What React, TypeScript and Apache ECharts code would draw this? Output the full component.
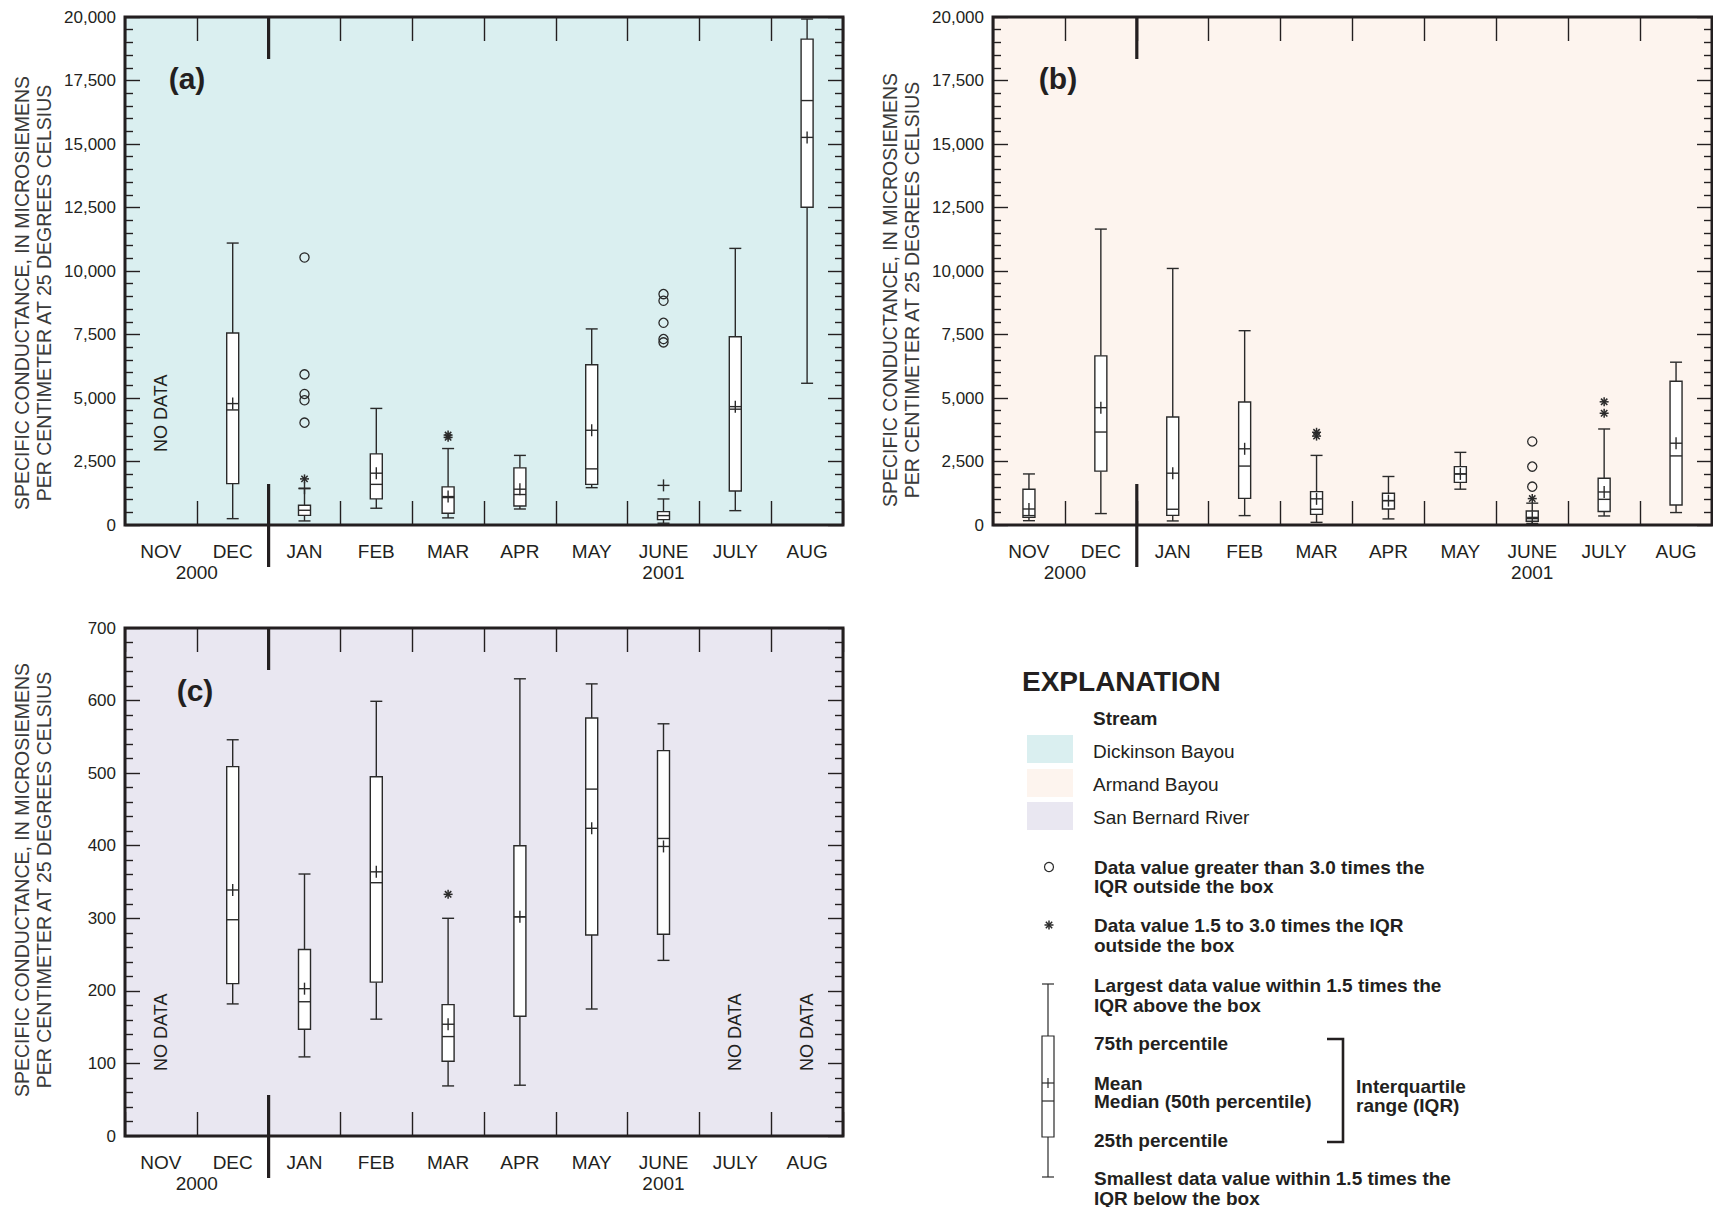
import React, { useEffect, useRef } from 'react';
import * as echarts from 'echarts';

const months = ['NOV', 'DEC', 'JAN', 'FEB', 'MAR', 'APR', 'MAY', 'JUNE', 'JULY', 'AUG'];
const seasonBreak = ['DEC', 'JAN'];
const yearLabels = [
  { text: '2000', from: 'NOV', to: 'DEC' },
  { text: '2001', from: 'JUNE', to: 'JUNE' },
];

// Box statistics: [month, lower whisker, 25th pct, median, 75th pct, upper whisker]
const dickinsonBoxes = [
  ['DEC', 250, 1630, 4530, 7560, 11100],
  ['JAN', 160, 380, 580, 780, 1430],
  ['FEB', 660, 1030, 1600, 2800, 4590],
  ['MAR', 280, 460, 1080, 1500, 3010],
  ['APR', 630, 750, 1200, 2250, 2740],
  ['MAY', 1470, 1600, 2210, 6310, 7720],
  ['JUNE', 70, 210, 370, 525, 1025],
  ['JULY', 565, 1340, 4560, 7410, 10890],
  ['AUG', 5580, 12510, 16710, 19130, 19920],
];
const dickinsonMeans = [
  ['DEC', 4780], ['JAN', 1450], ['FEB', 2040], ['MAR', 1120], ['APR', 1410],
  ['MAY', 3730], ['JUNE', 1560], ['JULY', 4660], ['AUG', 15260],
];
const dickinsonFarOut = [
  ['JAN', 10530], ['JAN', 5930], ['JAN', 5160], ['JAN', 4910], ['JAN', 4030],
  ['JUNE', 9090], ['JUNE', 8830], ['JUNE', 7960], ['JUNE', 7320], ['JUNE', 7190],
];
const dickinsonNearOut = [['JAN', 1815], ['MAR', 3450], ['MAR', 3540]];
const dickinsonNoData = ['NOV'];

const armandBoxes = [
  ['NOV', 170, 300, 370, 1410, 2010],
  ['DEC', 450, 2120, 3660, 6660, 11650],
  ['JAN', 160, 380, 620, 4250, 10100],
  ['FEB', 370, 1050, 2320, 4840, 7650],
  ['MAR', 105, 420, 620, 1315, 2740],
  ['APR', 240, 630, 960, 1250, 1910],
  ['MAY', 1410, 1680, 2010, 2300, 2860],
  ['JUNE', 60, 150, 250, 550, 860],
  ['JULY', 355, 530, 1010, 1840, 3780],
  ['AUG', 490, 790, 2720, 5660, 6410],
];
const armandMeans = [
  ['NOV', 630], ['DEC', 4620], ['JAN', 2040], ['FEB', 3000], ['MAR', 1030],
  ['APR', 960], ['MAY', 2010], ['JUNE', 300], ['JULY', 1300], ['AUG', 3220],
];
const armandFarOut = [['JUNE', 3290], ['JUNE', 2300], ['JUNE', 1510]];
const armandNearOut = [['MAR', 3500], ['MAR', 3650], ['JUNE', 1040], ['JULY', 4850], ['JULY', 4400]];
const armandNoData: string[] = [];

const sanBernardBoxes = [
  ['DEC', 182, 210, 298, 509, 546],
  ['JAN', 109, 147, 185, 257, 361],
  ['FEB', 161, 212, 349, 495, 599],
  ['MAR', 69, 103, 137, 181, 300],
  ['APR', 70, 165, 302, 400, 630],
  ['MAY', 175, 277, 478, 576, 623],
  ['JUNE', 242, 278, 410, 531, 568],
];
const sanBernardMeans = [
  ['DEC', 339], ['JAN', 203], ['FEB', 364], ['MAR', 154], ['APR', 302], ['MAY', 424], ['JUNE', 399],
];
const sanBernardFarOut: any[] = [];
const sanBernardNearOut = [['MAR', 333]];
const sanBernardNoData = ['NOV', 'JULY', 'AUG'];

const conductanceAxis = { min: 0, max: 20000, interval: 2500 };
const sanBernardAxis = { min: 0, max: 700, interval: 100 };

const FONT = "'Liberation Sans', Arial, Helvetica, sans-serif";
const INK = '#231f20';
const MARK = '#2a2a2a';
const Y_NAME = 'SPECIFIC CONDUCTANCE, IN MICROSIEMENS\nPER CENTIMETER AT 25 DEGREES CELSIUS';

const panels = [
  {
    label: '(a)', labelPos: [187, 78], bg: '#daeff0', namePos: [33, 293],
    grid: { left: 125, top: 17, width: 718, height: 508 },
    axis: conductanceAxis, noDataAt: 4400,
    boxes: dickinsonBoxes, means: dickinsonMeans, far: dickinsonFarOut, near: dickinsonNearOut, noData: dickinsonNoData,
  },
  {
    label: '(b)', labelPos: [1058, 78], bg: '#fdf4ee', namePos: [901, 290],
    grid: { left: 993, top: 17, width: 719, height: 508 },
    axis: conductanceAxis, noDataAt: 4400,
    boxes: armandBoxes, means: armandMeans, far: armandFarOut, near: armandNearOut, noData: armandNoData,
  },
  {
    label: '(c)', labelPos: [195, 690], bg: '#e9e7f1', namePos: [33, 880],
    grid: { left: 125, top: 628, width: 718, height: 508 },
    axis: sanBernardAxis, noDataAt: 143,
    boxes: sanBernardBoxes, means: sanBernardMeans, far: sanBernardFarOut, near: sanBernardNearOut, noData: sanBernardNoData,
  },
];

const mi = (m: string) => months.indexOf(m);
const HW = 6;

function boxRender(_p: any, api: any) {
  const x = api.value(0);
  const c = (v: number) => api.coord([x, v]);
  const cx = c(api.value(1))[0];
  const yLo = c(api.value(1))[1];
  const yQ1 = c(api.value(2))[1];
  const yMed = c(api.value(3))[1];
  const yQ3 = c(api.value(4))[1];
  const yHi = c(api.value(5))[1];
  const ls = { stroke: MARK, lineWidth: 1.4 };
  return {
    type: 'group',
    children: [
      { type: 'line', shape: { x1: cx, y1: yHi, x2: cx, y2: yQ3 }, style: ls },
      { type: 'line', shape: { x1: cx, y1: yQ1, x2: cx, y2: yLo }, style: ls },
      { type: 'line', shape: { x1: cx - HW, y1: yHi, x2: cx + HW, y2: yHi }, style: ls },
      { type: 'line', shape: { x1: cx - HW, y1: yLo, x2: cx + HW, y2: yLo }, style: ls },
      { type: 'rect', shape: { x: cx - HW, y: yQ3, width: HW * 2, height: yQ1 - yQ3 }, style: { fill: '#ffffff', stroke: MARK, lineWidth: 1.4 } },
      { type: 'line', shape: { x1: cx - HW, y1: yMed, x2: cx + HW, y2: yMed }, style: ls },
    ],
  };
}

function meanRender(_p: any, api: any) {
  const [cx, cy] = api.coord([api.value(0), api.value(1)]);
  const ls = { stroke: MARK, lineWidth: 1.4 };
  return {
    type: 'group',
    children: [
      { type: 'line', shape: { x1: cx - HW, y1: cy, x2: cx + HW, y2: cy }, style: ls },
      { type: 'line', shape: { x1: cx, y1: cy - 6, x2: cx, y2: cy + 6 }, style: ls },
    ],
  };
}

function circleRender(_p: any, api: any) {
  const [cx, cy] = api.coord([api.value(0), api.value(1)]);
  return { type: 'circle', shape: { cx, cy, r: 4.6 }, style: { fill: 'none', stroke: MARK, lineWidth: 1.3 } };
}

function starShape(cx: number, cy: number, r: number) {
  const children: any[] = [];
  for (let k = 0; k < 4; k++) {
    const a = (k * Math.PI) / 4;
    children.push({
      type: 'line',
      shape: { x1: cx - r * Math.cos(a), y1: cy - r * Math.sin(a), x2: cx + r * Math.cos(a), y2: cy + r * Math.sin(a) },
      style: { stroke: MARK, lineWidth: 1.5 },
    });
  }
  return children;
}

function starRender(_p: any, api: any) {
  const [cx, cy] = api.coord([api.value(0), api.value(1)]);
  return { type: 'group', children: starShape(cx, cy, 4.5) };
}

function buildOption() {
  const grid: any[] = [];
  const xAxis: any[] = [];
  const yAxis: any[] = [];
  const series: any[] = [];
  const graphic: any[] = [];

  const tickStyle = { color: INK, width: 1.4 };

  panels.forEach((p, i) => {
    grid.push({ ...p.grid, show: true, backgroundColor: p.bg, borderColor: INK, borderWidth: 3, containLabel: false });
    const catBase = {
      gridIndex: i, type: 'category', data: months, boundaryGap: true,
      axisLine: { show: false, onZero: false }, splitLine: { show: false },
      axisTick: { show: true, inside: true, length: 24, lineStyle: tickStyle },
    };
    xAxis.push({
      ...catBase, position: 'bottom',
      axisLabel: { show: true, margin: 17, fontSize: 19, color: INK, fontFamily: FONT },
    });
    xAxis.push({ ...catBase, position: 'top', axisLabel: { show: false } });
    const valBase = {
      gridIndex: i, type: 'value', min: p.axis.min, max: p.axis.max, interval: p.axis.interval,
      axisLine: { show: false, onZero: false }, splitLine: { show: false },
      axisTick: { show: true, inside: true, length: 15, lineStyle: tickStyle },
      minorTick: { show: true, splitNumber: 5, length: 8, lineStyle: tickStyle },
      minorSplitLine: { show: false },
    };
    yAxis.push({
      ...valBase, position: 'left',
      axisLabel: {
        show: true, margin: 9, fontSize: 17, color: INK, fontFamily: FONT,
        formatter: (v: number) => v.toLocaleString('en-US'),
      },
    });
    yAxis.push({ ...valBase, position: 'right', axisLabel: { show: false } });

    const axes = { xAxisIndex: 2 * i, yAxisIndex: 2 * i };
    const yMax = p.axis.max;
    const yMin = p.axis.min;

    series.push({
      type: 'custom', ...axes, silent: true, clip: false,
      data: p.boxes.map((b: any) => [mi(b[0]), b[1], b[2], b[3], b[4], b[5]]),
      renderItem: boxRender, z: 3,
    });
    series.push({
      type: 'custom', ...axes, silent: true, clip: false,
      data: p.means.map((m: any) => [mi(m[0]), m[1]]),
      renderItem: meanRender, z: 4,
    });
    series.push({
      type: 'custom', ...axes, silent: true, clip: false,
      data: p.far.map((m: any) => [mi(m[0]), m[1]]),
      renderItem: circleRender, z: 4,
    });
    series.push({
      type: 'custom', ...axes, silent: true, clip: false,
      data: p.near.map((m: any) => [mi(m[0]), m[1]]),
      renderItem: starRender, z: 4,
    });
    // season break line between DEC and JAN
    series.push({
      type: 'custom', ...axes, silent: true, clip: false, z: 5,
      data: [[mi(seasonBreak[0]), mi(seasonBreak[1])]],
      renderItem: (_pp: any, api: any) => {
        const xa = api.coord([api.value(0), yMin])[0];
        const xb = api.coord([api.value(1), yMin])[0];
        const x = (xa + xb) / 2;
        const yB = api.coord([api.value(0), yMin])[1];
        const yT = api.coord([api.value(0), yMax])[1];
        const st = { stroke: INK, lineWidth: 3.2 };
        return {
          type: 'group',
          children: [
            { type: 'line', shape: { x1: x, y1: yT, x2: x, y2: yT + 42 }, style: st },
            { type: 'line', shape: { x1: x, y1: yB - 41, x2: x, y2: yB + 42 }, style: st },
          ],
        };
      },
    });
    // year labels
    series.push({
      type: 'custom', ...axes, silent: true, clip: false, z: 5,
      data: yearLabels.map((y) => [mi(y.from), mi(y.to)]),
      renderItem: (pp: any, api: any) => {
        const xa = api.coord([api.value(0), yMin])[0];
        const xb = api.coord([api.value(1), yMin])[0];
        const yB = api.coord([api.value(0), yMin])[1];
        return {
          type: 'text', x: (xa + xb) / 2, y: yB + 47,
          style: { text: yearLabels[pp.dataIndex].text, fontSize: 19, fontFamily: FONT, fill: INK, align: 'center', verticalAlign: 'middle' },
        };
      },
    });
    // NO DATA labels
    series.push({
      type: 'custom', ...axes, silent: true, clip: false, z: 5,
      data: p.noData.map((m: string) => [mi(m), p.noDataAt]),
      renderItem: (_pp: any, api: any) => {
        const [x, y] = api.coord([api.value(0), api.value(1)]);
        return {
          type: 'text', x, y, rotation: Math.PI / 2,
          style: { text: 'NO DATA', fontSize: 18, fontFamily: FONT, fill: INK, align: 'center', verticalAlign: 'middle' },
        };
      },
    });

    graphic.push({
      type: 'text', x: p.labelPos[0], y: p.labelPos[1], z: 10,
      style: { text: p.label, fontSize: 30, fontWeight: 'bold', fontFamily: FONT, fill: INK, align: 'center', verticalAlign: 'middle' },
    });
    graphic.push({
      type: 'text', x: p.namePos[0], y: p.namePos[1], rotation: Math.PI / 2, z: 10,
      style: { text: Y_NAME, fontSize: 19.5, lineHeight: 22, fontFamily: FONT, fill: '#3a3a3a', align: 'center', verticalAlign: 'middle' },
    });
  });

  // Explanation (legend)
  const txt = (text: string, x: number, y: number, size = 19, bold = true) => ({
    type: 'text', x, y,
    style: { text, fontSize: size, fontWeight: bold ? 'bold' : 'normal', fontFamily: FONT, fill: INK, align: 'left', verticalAlign: 'middle' },
  });
  const ln = (x1: number, y1: number, x2: number, y2: number, w = 1.2) => ({
    type: 'line', shape: { x1, y1, x2, y2 }, style: { stroke: MARK, lineWidth: w },
  });
  graphic.push(txt('EXPLANATION', 1022, 681, 28, true));
  graphic.push(txt('Stream', 1093, 718, 19, true));
  const streams = ['Dickinson Bayou', 'Armand Bayou', 'San Bernard River'];
  const swY = [735, 769, 802];
  const txY = [751.5, 784.7, 817.3];
  streams.forEach((s, k) => {
    graphic.push({ type: 'rect', shape: { x: 1027, y: swY[k], width: 46, height: 28 }, style: { fill: panels[k].bg } });
    graphic.push(txt(s, 1093, txY[k], 19, false));
  });
  graphic.push({ type: 'circle', shape: { cx: 1049, cy: 867, r: 4.5 }, style: { fill: 'none', stroke: MARK, lineWidth: 1.2 } });
  graphic.push(txt('Data value greater than 3.0 times the', 1094, 867));
  graphic.push(txt('IQR outside the box', 1094, 886.5));
  graphic.push({ type: 'group', children: starShape(1049, 925, 4.5) });
  graphic.push(txt('Data value 1.5 to 3.0 times the IQR', 1094, 925));
  graphic.push(txt('outside the box', 1094, 945));
  // legend box glyph
  const gx = 1048;
  graphic.push(ln(gx - HW, 984, gx + HW, 984));
  graphic.push(ln(gx, 984, gx, 1036));
  graphic.push({ type: 'rect', shape: { x: gx - HW, y: 1036, width: HW * 2, height: 101 }, style: { fill: '#fff', stroke: MARK, lineWidth: 1.2 } });
  graphic.push(ln(gx - HW, 1083, gx + HW, 1083));
  graphic.push(ln(gx, 1078, gx, 1088));
  graphic.push(ln(gx - HW, 1101, gx + HW, 1101));
  graphic.push(ln(gx, 1137, gx, 1177));
  graphic.push(ln(gx - HW, 1177, gx + HW, 1177));
  graphic.push(txt('Largest data value within 1.5 times the', 1094, 985));
  graphic.push(txt('IQR above the box', 1094, 1005));
  graphic.push(txt('75th percentile', 1094, 1043));
  graphic.push(txt('Mean', 1094, 1083));
  graphic.push(txt('Median (50th percentile)', 1094, 1101.5));
  graphic.push(txt('25th percentile', 1094, 1140));
  graphic.push({
    type: 'polyline', shape: { points: [[1327, 1039], [1343, 1039], [1343, 1142], [1327, 1142]] },
    style: { stroke: INK, lineWidth: 2.6, fill: 'none' },
  });
  graphic.push(txt('Interquartile', 1356, 1086));
  graphic.push(txt('range (IQR)', 1356, 1105));
  graphic.push(txt('Smallest data value within 1.5 times the', 1094, 1178));
  graphic.push(txt('IQR below the box', 1094, 1198));

  return {
    animation: false,
    backgroundColor: '#ffffff',
    textStyle: { fontFamily: FONT },
    grid, xAxis, yAxis, series, graphic,
  };
}

export default function App() {
  const ref = useRef<HTMLDivElement>(null);
  useEffect(() => {
    const chart = echarts.init(ref.current as HTMLDivElement, null, { renderer: 'svg' });
    chart.setOption(buildOption() as any);
    return () => chart.dispose();
  }, []);
  return (
    <div
      ref={ref}
      style={{ position: 'fixed', left: 0, top: 0, width: 1713, height: 1207, background: '#ffffff' }}
    />
  );
}
